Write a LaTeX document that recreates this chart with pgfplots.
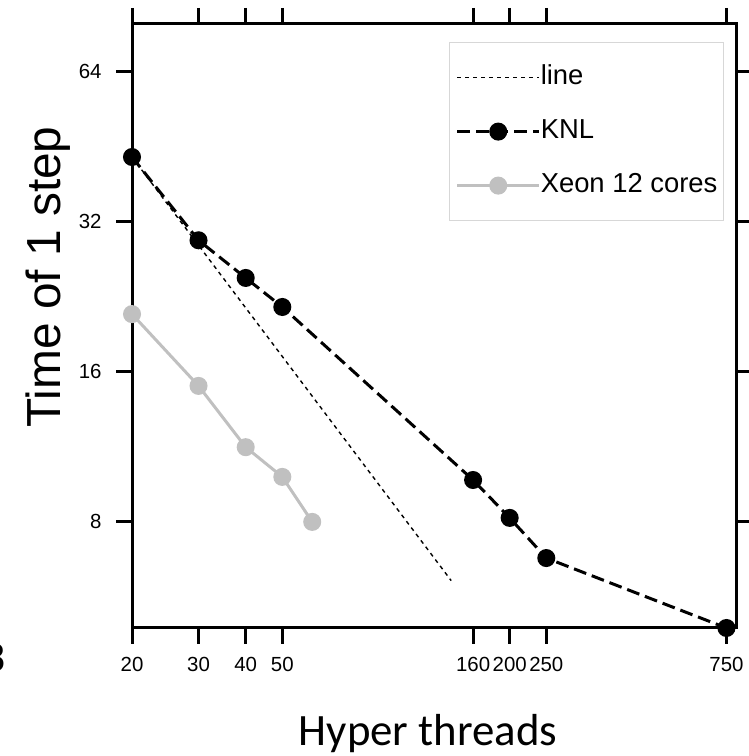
\documentclass[border=0pt]{standalone}
\usepackage{fontspec}
\setmainfont{Liberation Sans}
\newfontfamily\calibri{Carlito}
\usepackage{pgfplots}
\pgfplotsset{compat=1.18}
\definecolor{xeongray}{RGB}{192,192,192}
\definecolor{legframe}{RGB}{215,215,215}

\begin{document}
\begin{tikzpicture}[x=1bp,y=1bp]
\begin{axis}[
    at={(132bp,128bp)}, anchor=south west,
    scale only axis, width=604bp, height=604bp,
    xmode=log, ymode=log, log basis y=2,
    xmin=20, xmax=795, ymin=4.9, ymax=79.9,
    xtick={20,30,40,50,160,200,250,750},
    xticklabels={20,30,40,50,160,200,250,750},
    ytick={8,16,32,64},
    yticklabels={8,16,32,64},
    minor xtick={}, minor ytick={},
    tick align=outside, major tick length=16bp,
    xtick pos=both, ytick pos=both,
    xticklabel pos=lower, yticklabel pos=left,
    major tick style={black, line width=3bp},
    axis line style={black, line width=3bp},
    tick label style={font=\fontsize{20.5}{20.5}\selectfont},
    xticklabel style={yshift=-10bp},
    yticklabel style={xshift=-11bp},
    xlabel={\calibri Hyper threads},
    xlabel style={font=\fontsize{45}{45}\selectfont, anchor=base,
        at={(axis description cs:0.49,-0.195)}},
    ylabel={Time of 1 step},
    ylabel style={font=\fontsize{48}{48}\selectfont, anchor=base, rotate=0,
        at={(axis description cs:-0.119,0.581)}},
    legend style={at={(axis description cs:0.980,0.970)}, anchor=north east,
        draw=legframe, line width=1bp, font=\fontsize{27.5}{27.5}\selectfont,
        inner xsep=6bp, inner ysep=22bp, row sep=28bp,
        nodes={inner sep=0bp, text height=20bp, text depth=6bp}},
    legend cell align=left,
    legend image code/.code={
        \draw[mark repeat=2, mark phase=2, #1]
            plot coordinates {(0bp,0bp) (41bp,0bp) (82bp,0bp)};},
]
% ideal scaling line
\addplot[black, line width=1.4bp, dash pattern=on 4bp off 4bp] coordinates {
    (20,43.2) (140,6.1)
};
\addlegendentry{line}
% KNL
\addplot[black, line width=3bp, dash pattern=on 13bp off 6bp,
    mark=*, mark size=7.5bp, mark options={solid}] coordinates {
    (20,43.2) (30,29.4) (40,24.7) (50,21.6) (160,9.71) (200,8.15) (250,6.77) (750,4.9)
};
\addlegendentry{KNL}
% Xeon 12 cores
\addplot[xeongray, line width=3bp, mark=*, mark size=7.5bp] coordinates {
    (20,20.9) (30,15.0) (40,11.3) (50,9.85) (60,8.0)
};
\addlegendentry{Xeon 12 cores}
\end{axis}
\node[font=\fontsize{40}{40}\selectfont, anchor=base east] at (9,756-672) {8};
\pgfresetboundingbox
\useasboundingbox (0,0) rectangle (749,756);
\end{tikzpicture}
\end{document}
